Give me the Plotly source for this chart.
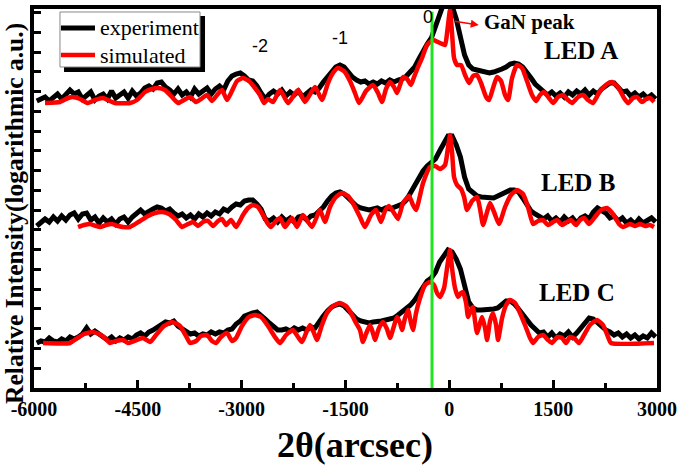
import numpy as np
import plotly.graph_objects as go

# ---------------- data (2theta in arcsec, log-intensity in decades above floor) ----------------
SCAN_START = -5960
SCAN_STEP = 60
exp_x = np.arange(SCAN_START, 3000, SCAN_STEP)  # measurement scan grid (150 points)

exp_A = [0.10, 0.20, 0.30, 0.10, 0.30, 0.45, 0.20, 0.40, 0.65, 0.45,
         0.55, 0.20, 0.35, 0.55, 0.15, 0.35, 0.45, 0.20, 0.60, 0.25,
         0.40, 0.55, 0.25, 0.60, 0.35, 0.50, 0.75, 0.85, 0.70, 1.00,
         1.05, 0.80, 0.65, 0.45, 0.70, 0.40, 0.55, 0.30, 0.70, 0.45,
         0.60, 0.75, 0.45, 0.70, 0.85, 0.65, 1.10, 1.35, 1.45, 1.50,
         1.35, 1.15, 1.10, 0.85, 0.50, 0.20, 0.45, 0.60, 0.45, 0.65,
         0.35, 0.55, 0.40, 0.60, 0.30, 0.50, 0.65, 0.55, 0.75, 1.05,
         1.30, 1.60, 1.80, 1.90, 1.80, 1.55, 1.30, 1.15, 1.05, 1.10,
         0.95, 1.05, 0.95, 1.10, 1.00, 1.15, 1.05, 1.15, 1.20, 1.35,
         1.55, 1.80, 2.20, 2.60, 2.95, 3.25, 3.80, 4.50, 5.00, 5.00,
         4.85, 4.20, 3.20, 2.40, 1.90, 1.70, 1.65, 1.60, 1.55, 1.50,
         1.55, 1.60, 1.70, 1.80, 1.95, 2.00, 1.95, 1.80, 1.55, 1.25,
         0.95, 0.75, 0.60, 0.40, 0.55, 0.35, 0.50, 0.30, 0.55, 0.40,
         0.60, 0.45, 0.65, 0.40, 0.60, 0.45, 0.70, 0.85, 1.00, 1.00,
         0.80, 0.55, 0.60, 0.35, 0.50, 0.30, 0.45, 0.25, 0.40, 0.20]

exp_B = [0.05, 0.25, 0.40, 0.25, 0.50, 0.30, 0.55, 0.35, 0.60, 0.70,
         0.40, 0.65, 0.70, 0.35, 0.50, 0.20, 0.45, 0.25, 0.40, 0.15,
         0.40, 0.50, 0.25, 0.50, 0.65, 0.85, 0.65, 0.80, 0.90, 1.00,
         0.95, 0.80, 0.90, 0.70, 0.55, 0.65, 0.45, 0.60, 0.40, 0.65,
         0.50, 0.70, 0.55, 0.75, 0.65, 0.90, 0.80, 1.00, 1.15, 1.10,
         1.30, 1.35, 1.35, 1.15, 0.90, 0.40, 0.30, 0.45, 0.25, 0.50,
         0.30, 0.45, 0.25, 0.50, 0.55, 0.35, 0.55, 0.60, 0.80, 1.00,
         1.30, 1.55, 1.70, 1.75, 1.65, 1.45, 1.25, 1.05, 0.95, 0.90,
         0.85, 0.90, 0.95, 0.85, 0.95, 0.90, 1.00, 1.05, 1.15, 1.35,
         1.70, 2.10, 2.50, 2.80, 3.05, 3.20, 3.40, 3.80, 4.20, 4.55,
         4.55, 4.10, 3.50, 2.50, 1.90, 1.70, 1.55, 1.50, 1.50, 1.50,
         1.45, 1.55, 1.65, 1.75, 1.85, 1.85, 1.75, 1.45, 1.10, 0.80,
         0.65, 0.50, 0.40, 0.55, 0.30, 0.45, 0.25, 0.50, 0.30, 0.45,
         0.20, 0.45, 0.55, 0.40, 0.75, 0.95, 0.85, 0.70, 0.45, 0.55,
         0.30, 0.45, 0.20, 0.35, 0.15, 0.40, 0.20, 0.35, 0.45, 0.25]

exp_C = [0.00, 0.10, 0.05, 0.25, 0.10, 0.05, 0.20, 0.10, 0.30, 0.20,
         0.30, 0.45, 0.75, 0.45, 0.60, 0.45, 0.30, 0.15, 0.30, 0.10,
         0.25, 0.15, 0.30, 0.20, 0.40, 0.50, 0.35, 0.55, 0.65, 0.80,
         0.90, 1.05, 1.00, 1.10, 0.85, 0.70, 0.55, 0.45, 0.50, 0.35,
         0.45, 0.40, 0.55, 0.45, 0.55, 0.50, 0.65, 0.70, 0.95, 1.10,
         1.35, 1.45, 1.50, 1.55, 1.40, 1.20, 1.00, 0.80, 0.65, 0.65,
         0.70, 0.60, 0.75, 0.65, 0.75, 0.65, 0.80, 0.75, 1.10, 1.35,
         1.60, 1.80, 1.90, 1.95, 1.85, 1.65, 1.40, 1.20, 1.10, 1.05,
         1.00, 1.05, 1.05, 1.10, 1.15, 1.20, 1.25, 1.40, 1.55, 1.70,
         1.90, 2.15, 2.50, 2.85, 3.10, 3.25, 3.55, 4.05, 4.40, 4.65,
         4.55, 4.20, 3.70, 2.85, 2.05, 1.75, 1.65, 1.65, 1.65, 1.65,
         1.70, 1.75, 1.90, 2.10, 2.10, 1.95, 1.70, 1.40, 1.15, 0.90,
         0.70, 0.50, 0.55, 0.30, 0.50, 0.25, 0.45, 0.35, 0.55, 0.30,
         0.50, 0.75, 1.05, 1.25, 1.20, 1.00, 0.85, 0.65, 0.55, 0.40,
         0.50, 0.30, 0.45, 0.25, 0.40, 0.20, 0.35, 0.25, 0.50, 0.30]

sim_A_x = [-5841, -5624, -5508, -5437, -5335, -5219, -5119, -5003, -4902, -4830,
           -4613, -4512, -4396, -4295, -4208, -4108, -4006, -3919, -3833, -3746,
           -3659, -3588, -3501, -3428, -3356, -3284, -3212, -3154, -3067, -2981,
           -2894, -2808, -2735, -2677, -2619, -2548, -2446, -2330, -2186, -2085,
           -1941, -1840, -1753, -1681, -1608, -1522, -1435, -1363, -1305, -1204,
           -1103, -1030, -973, -915, -857, -799, -756, -712, -669, -611,
           -554, -510, -452, -394, -322, -236, -134, -62, -33, 10,
           39, 68, 111, 169, 227, 285, 342, 400, 458, 531,
           574, 631, 689, 747, 805, 849, 906, 978, 1050, 1122,
           1195, 1253, 1310, 1368, 1440, 1498, 1571, 1642, 1715, 1773,
           1860, 1931, 2004, 2075, 2177, 2278, 2350, 2437, 2524, 2582,
           2653, 2711, 2784, 2842, 2899, 2957]
sim_A = [0, 0.05, 0.25, 0.3, 0.2, 0, 0.15, 0.25, 0.1, 0,
         0, 0.15, 0.55, 0.7, 0.75, 0.65, 0.3, 0, 0.15, 0.3,
         0.05, 0.2, 0.4, 0.1, 0.4, 0.65, 0.15, 0.5, 1.1, 1.25,
         1.1, 0.75, 0.4, 0, 0.2, 0.05, 0.65, 0, 0.65, 0.05,
         0.8, 0.15, 1.0, 1.5, 1.75, 1.6, 1.1, 0.5, 0, 0.6,
         0.9, 0.5, 0.05, 0.7, 1.05, 0.8, 0.5, 0.9, 1.3, 1.2,
         0.9, 1.3, 1.8, 2.25, 2.9, 3.15, 3.0, 2.9, 3.5, 4.65,
         3.5, 2.25, 1.9, 1.9, 1.4, 1.0, 1.35, 1.4, 1.0, 0.3,
         0.15, 0.75, 1.3, 1.1, 0.4, 0.15, 1.25, 1.9, 1.75, 1.1,
         0.4, 0.1, 0.4, 0.55, 0.25, 0, 0.3, 0.4, 0.15, 0,
         0.3, 0.4, 0.15, 0, 0.6, 0.95, 1.05, 0.8, 0.25, 0,
         0.25, 0.3, 0.05, 0.2, 0.25, 0.05]

sim_B_x = [-5364, -5277, -5191, -5104, -5046, -4959, -4873, -4786, -4714, -4613,
           -4468, -4352, -4252, -4151, -4050, -3948, -3862, -3775, -3703, -3630,
           -3559, -3486, -3414, -3341, -3284, -3226, -3154, -3081, -2981, -2908,
           -2837, -2764, -2692, -2619, -2577, -2504, -2446, -2374, -2273, -2201,
           -2114, -1984, -1869, -1797, -1724, -1637, -1551, -1464, -1377, -1291,
           -1219, -1132, -1059, -988, -930, -872, -799, -741, -669, -582,
           -525, -481, -380, -279, -207, -134, -62, -18, 10, 39,
           68, 111, 169, 213, 256, 328, 400, 444, 487, 545,
           588, 646, 718, 805, 891, 978, 1064, 1137, 1209, 1282,
           1353, 1426, 1498, 1556, 1628, 1700, 1758, 1831, 1888, 1946,
           2018, 2104, 2191, 2278, 2364, 2451, 2509, 2610, 2682, 2755,
           2827, 2899, 2957]
sim_B = [0, 0.1, 0.15, 0.05, 0, 0.1, 0.15, 0.05, 0, 0,
         0.3, 0.55, 0.7, 0.75, 0.65, 0.35, 0, 0.15, 0.25, 0.05,
         0.25, 0.3, 0.05, 0.3, 0.4, 0.1, 0.35, 0, 0.6, 0.95,
         1.1, 1.0, 0.6, 0.15, 0, 0.3, 0.45, 0, 0.45, 0,
         0.6, 0, 0.85, 0.25, 1.0, 1.5, 1.7, 1.55, 1.1, 0.5,
         0, 0.6, 0.85, 0.25, 0.8, 1.05, 0.7, 0.4, 1.2, 1.55,
         1.1, 0.85, 2.2, 3.0, 3.05, 2.9, 3.1, 4.0, 4.6, 3.75,
         2.5, 2.1, 1.9, 1.5, 0.85, 1.3, 1.5, 0.9, 0.1, 0.75,
         1.2, 0.75, 0.15, 1.0, 1.6, 1.85, 1.65, 1.0, 0.15, 0.3,
         0.35, 0.1, 0.25, 0.35, 0.1, 0.25, 0.35, 0.1, 0.35, 0.45,
         0.15, 0.5, 0.85, 0.95, 0.65, 0.15, 0, 0.15, 0.05, 0.15,
         0.05, 0.1, 0]

sim_C_x = [-5870, -5480, -5393, -5277, -5148, -5032, -4945, -4902, -4815, -4714,
           -4641, -4555, -4425, -4324, -4237, -4122, -4006, -3891, -3804, -3746,
           -3659, -3588, -3501, -3428, -3370, -3299, -3212, -3139, -3081, -2995,
           -2894, -2808, -2721, -2619, -2519, -2446, -2359, -2259, -2186, -2128,
           -2070, -2013, -1955, -1912, -1840, -1768, -1681, -1580, -1493, -1421,
           -1348, -1291, -1248, -1204, -1146, -1103, -1074, -1016, -959, -901,
           -857, -799, -756, -712, -683, -640, -596, -554, -525, -481,
           -423, -351, -279, -221, -178, -134, -76, -33, 10, 39,
           82, 126, 169, 198, 242, 271, 313, 342, 371, 400,
           444, 473, 516, 545, 588, 631, 675, 704, 762, 820,
           877, 949, 1021, 1093, 1166, 1209, 1282, 1353, 1426, 1484,
           1556, 1628, 1686, 1744, 1816, 1874, 1946, 2032, 2133, 2220,
           2293, 2335, 2957]
sim_C = [0, 0, 0.2, 0.45, 0.55, 0.4, 0.15, 0, 0.1, 0.15,
         0, 0.1, 0.25, 0.05, 0.4, 0.85, 1.05, 0.85, 0.35, 0,
         0.1, 0.35, 0.4, 0.1, 0, 0.3, 0.5, 0.1, 0.25, 0.85,
         1.3, 1.4, 1.3, 0.85, 0.3, 0, 0.4, 0.65, 0.3, 0.05,
         0.5, 0.9, 0.5, 0.15, 0.9, 1.5, 1.85, 2.0, 1.85, 1.5,
         1.0, 0.65, 0.05, 0.45, 0.9, 0.5, 0.15, 0.75, 1.05, 0.7,
         0.25, 0.85, 1.3, 1.0, 0.65, 1.25, 1.65, 1.0, 0.65, 1.5,
         2.25, 2.9, 3.05, 2.9, 2.5, 2.3, 2.75, 3.75, 4.65, 3.75,
         2.75, 2.3, 2.5, 2.55, 2.0, 1.3, 1.65, 1.8, 1.1, 0.5,
         1.0, 1.3, 0.75, 0.15, 1.1, 1.5, 0.9, 0.15, 1.25, 1.9,
         2.15, 2.0, 1.5, 0.9, 0.25, 0, 0.3, 0.4, 0.15, 0,
         0.3, 0.25, 0, 0.3, 0.2, 0, 0.4, 0.9, 1.15, 0.9,
         0.3, 0, 0]

panels = ["LED A", "LED B", "LED C"]
offsets = [14.25, 8.05, 2.25]          # vertical stacking offsets (decades)
exp_series = [exp_A, exp_B, exp_C]
sim_series = [(sim_A_x, sim_A), (sim_B_x, sim_B), (sim_C_x, sim_C)]
label_pos = [(1900, 16.9), (1860, 10.3), (1845, 4.8)]

zero_order_x = -250                     # zero-order satellite position
order_labels = [("-2", -2735, 17.1), ("-1", -1580, 17.5), ("0", -310, 18.55)]

x_ticks = [-6000, -4500, -3000, -1500, 0, 1500, 3000]
x_tick_text = ["-6000", "-4500", "-3000", "-1500", "0", "1500", "3000"]
x_minor_ticks = [-5250, -3750, -2250, -750, 750, 2250]

series_names = ["experiment", "simulated"]
series_colors = ["black", "#ff0000"]
series_widths = [5, 4.5]

SERIF = "Liberation Serif"
SANS = "Liberation Sans"

fig = go.Figure()

for i, off in enumerate(offsets):
    fig.add_trace(go.Scatter(
        x=exp_x, y=np.array(exp_series[i]) + off, mode="lines",
        line=dict(color=series_colors[0], width=series_widths[0]),
        name=series_names[0], showlegend=False))

for i, off in enumerate(offsets):
    sx, sy = sim_series[i]
    fig.add_trace(go.Scatter(
        x=sx, y=np.array(sy) + off, mode="lines",
        line=dict(color=series_colors[1], width=series_widths[1], shape="spline", smoothing=0.5),
        name=series_names[1], showlegend=False))

# zero-order line
fig.add_shape(type="line", xref="x", yref="paper", x0=zero_order_x, x1=zero_order_x,
              y0=0, y1=0.993, line=dict(color="#1ee61e", width=3), layer="above")

# ---- legend box (Origin style, with drop shadow) ----
fig.add_shape(type="rect", xref="paper", yref="paper",
              x0=0.0482, x1=0.2745, y0=0.8338, y1=0.9815,
              fillcolor="black", line=dict(width=0), layer="above")
fig.add_shape(type="rect", xref="paper", yref="paper",
              x0=0.0417, x1=0.2665, y0=0.8470, y1=0.9921,
              fillcolor="white", line=dict(color="#888888", width=1), layer="above")
legend_rows = [0.9499, 0.8786]
for name, col, w, ry in zip(series_names, series_colors, series_widths, legend_rows):
    fig.add_shape(type="line", xref="paper", yref="paper", x0=0.0433, x1=0.0979,
                  y0=ry, y1=ry, line=dict(color=col, width=w), layer="above")

annotations = []
for name, ry in zip(series_names, legend_rows):
    annotations.append(dict(x=0.1027, y=ry, xref="paper", yref="paper", xanchor="left",
                            yanchor="middle", text=name, showarrow=False,
                            font=dict(family=SERIF, size=22, color="black")))
for txt, xx, yy in order_labels:
    annotations.append(dict(x=xx, y=yy, xref="x", yref="y", text=txt, showarrow=False,
                            font=dict(family=SANS, size=18, color="black")))
for name, (lx, ly) in zip(panels, label_pos):
    annotations.append(dict(x=lx, y=ly, xref="x", yref="y", text="<b>%s</b>" % name,
                            showarrow=False, font=dict(family=SERIF, size=25, color="black")))
annotations.append(dict(x=470, y=18.3, xref="x", yref="y", xanchor="left", yanchor="middle",
                        text="<b>GaN peak</b>", showarrow=False,
                        font=dict(family=SERIF, size=21, color="black")))
annotations.append(dict(x=425, y=18.15, ax=55, ay=18.35, xref="x", yref="y",
                        axref="x", ayref="y", text="", showarrow=True,
                        arrowhead=2, arrowsize=1, arrowwidth=1.6, arrowcolor="#ff0000"))
annotations.append(dict(x=0.515, y=-0.15, xref="paper", yref="paper",
                        xanchor="center", yanchor="middle",
                        text="<b>2θ(arcsec)</b>", showarrow=False,
                        font=dict(family=SERIF, size=36, color="black")))
annotations.append(dict(x=-0.0305, y=0.462, xref="paper", yref="paper", textangle=-90,
                        xanchor="center", yanchor="middle", borderpad=0,
                        text="<b>Relative Intensity(logarithmic a.u.)</b>", showarrow=False,
                        font=dict(family=SERIF, size=25.5, color="black")))

fig.update_layout(
    width=685, height=476,
    margin=dict(l=34, r=28, t=9, b=88),
    paper_bgcolor="white", plot_bgcolor="white",
    annotations=annotations,
    showlegend=False,
    xaxis=dict(range=[-6000, 3000], tickmode="array", tickvals=x_ticks, ticktext=x_tick_text,
               ticks="inside", ticklen=8, tickwidth=3, tickcolor="black",
               minor=dict(tickmode="array", tickvals=x_minor_ticks, ticks="inside",
                          ticklen=5, tickwidth=3, tickcolor="black"),
               showline=True, linewidth=4, linecolor="black", mirror=True,
               showgrid=False, zeroline=False, automargin=False,
               tickfont=dict(family=SERIF, size=20, color="black", weight="bold")),
    yaxis=dict(range=[0, 18.95], tick0=0, dtick=0.988,
               ticks="inside", ticklen=7, tickwidth=3, tickcolor="black",
               showticklabels=False, automargin=False,
               showline=True, linewidth=4, linecolor="black", mirror=True,
               showgrid=False, zeroline=False),
)

fig.write_html("out.html", config={"displayModeBar": False},
               post_script="document.body.style.margin='0px';")
